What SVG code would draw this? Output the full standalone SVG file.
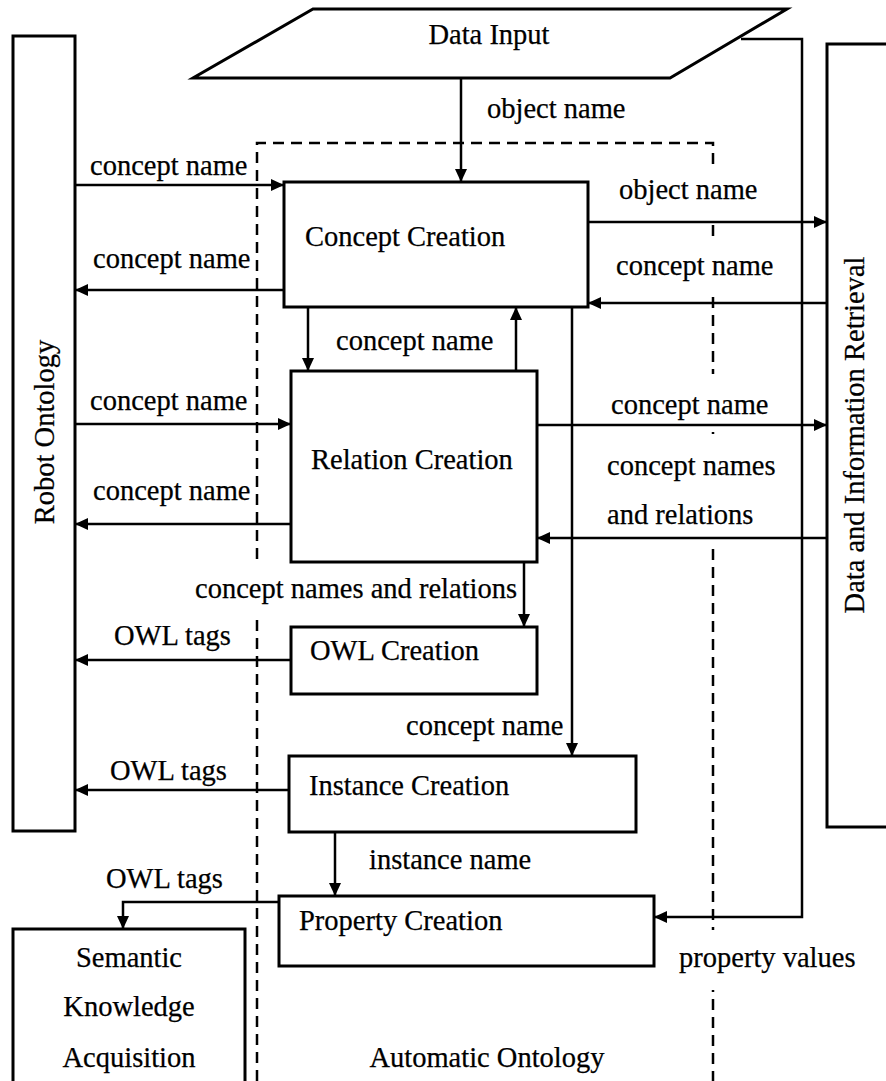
<svg xmlns="http://www.w3.org/2000/svg" width="886" height="1081" viewBox="0 0 886 1081">
  <defs>
    <style>
      .box { fill: #fff; stroke: #000; stroke-width: 3; }
      .io { fill: #fff; stroke: #000; stroke-width: 3; stroke-linejoin: miter; }
      .wire { fill: none; stroke: #000; stroke-width: 2.5; marker-end: url(#head); }
      .bound { fill: none; stroke: #000; stroke-width: 2.5; stroke-dasharray: 11 7; }
      .pad { fill: #fff; stroke: none; }
      text { font-family: "Liberation Serif", "Times New Roman", serif; font-size: 28.5px; fill: #000; stroke: #000; stroke-width: 0.25; }
      .mid { text-anchor: middle; }
    </style>
    <marker id="head" markerUnits="userSpaceOnUse" markerWidth="14" markerHeight="12" refX="13" refY="6" orient="auto">
      <path d="M0,0 L13,6 L0,12 z" fill="#000"/>
    </marker>
  </defs>

  <rect width="886" height="1081" fill="#fff"/>

  <!-- Automatic Ontology boundary -->
  <g id="automatic-ontology">
    <path class="bound" d="M257,1081 V143 H713 V1081"/>
    <text class="mid" x="487" y="1067">Automatic Ontology</text>
  </g>

  <!-- Nodes -->
  <g id="data-input">
    <path class="io" d="M313,9 L787,9 L670,78 L193,78 Z"/>
    <text class="mid" x="489" y="44">Data Input</text>
  </g>

  <g id="robot-ontology">
    <rect class="box" x="13" y="36" width="62" height="795"/>
    <text class="mid" transform="translate(54,432) rotate(-90)">Robot Ontology</text>
  </g>

  <g id="data-information-retrieval">
    <rect class="box" x="827" y="44" width="80" height="783"/>
    <text class="mid" transform="translate(864,435) rotate(-90)">Data and Information Retrieval</text>
  </g>

  <g id="concept-creation">
    <rect class="box" x="284" y="182" width="304" height="125"/>
    <text x="305" y="246">Concept Creation</text>
  </g>

  <g id="relation-creation">
    <rect class="box" x="291" y="371" width="246" height="191"/>
    <text x="311" y="469">Relation Creation</text>
  </g>

  <g id="owl-creation">
    <rect class="box" x="291" y="627" width="246" height="67"/>
    <text x="310" y="660">OWL Creation</text>
  </g>

  <g id="instance-creation">
    <rect class="box" x="289" y="756" width="347" height="76"/>
    <text x="309" y="795">Instance Creation</text>
  </g>

  <g id="property-creation">
    <rect class="box" x="279" y="896" width="375" height="70"/>
    <text x="299" y="930">Property Creation</text>
  </g>

  <g id="semantic-knowledge-acquisition">
    <rect class="box" x="13" y="929" width="232" height="200"/>
    <text class="mid" x="129" y="967">Semantic</text>
    <text class="mid" x="129" y="1016">Knowledge</text>
    <text class="mid" x="129" y="1067">Acquisition</text>
  </g>

  <!-- Connectors -->
  <g id="connectors">
    <!-- white label boxes that break the dashed boundary -->
    <rect class="pad" x="614" y="165" width="148" height="58"/>
    <rect class="pad" x="612" y="238" width="164" height="55"/>
    <rect class="pad" x="606" y="374" width="168" height="58"/>
    <rect class="pad" x="603" y="440" width="176" height="102"/>
    <rect class="pad" x="190" y="565" width="330" height="54"/>
    <rect class="pad" x="675" y="930" width="186" height="60"/>

    <path class="wire" d="M461,78 V182"/>
    <path class="wire" d="M75,185 H284"/>
    <path class="wire" d="M284,290 H75"/>
    <path class="wire" d="M588,222 H827"/>
    <path class="wire" d="M827,303 H588"/>
    <path class="wire" d="M308,307 V371"/>
    <path class="wire" d="M516,371 V307"/>
    <path class="wire" d="M75,424 H291"/>
    <path class="wire" d="M291,524 H75"/>
    <path class="wire" d="M537,425 H827"/>
    <path class="wire" d="M827,538 H537"/>
    <path class="wire" d="M524,562 V627"/>
    <path class="wire" d="M291,660 H75"/>
    <path class="wire" d="M572,307 V756"/>
    <path class="wire" d="M289,790 H75"/>
    <path class="wire" d="M335,832 V896"/>
    <path class="wire" d="M279,902 H123 V929"/>
    <path class="wire" d="M741,39 H802 V917 H654"/>

    <text x="487" y="118">object name</text>
    <text x="90" y="175">concept name</text>
    <text x="93" y="268">concept name</text>
    <text x="619" y="199">object name</text>
    <text x="616" y="275">concept name</text>
    <text x="336" y="350">concept name</text>
    <text x="90" y="410">concept name</text>
    <text x="93" y="500">concept name</text>
    <text x="611" y="414">concept name</text>
    <text x="607" y="475">concept names</text>
    <text x="607" y="524">and relations</text>
    <text x="195" y="598">concept names and relations</text>
    <text x="114" y="645">OWL tags</text>
    <text x="406" y="735">concept name</text>
    <text x="110" y="780">OWL tags</text>
    <text x="369" y="869">instance name</text>
    <text x="106" y="888">OWL tags</text>
    <text x="679" y="967">property values</text>
  </g>
</svg>
